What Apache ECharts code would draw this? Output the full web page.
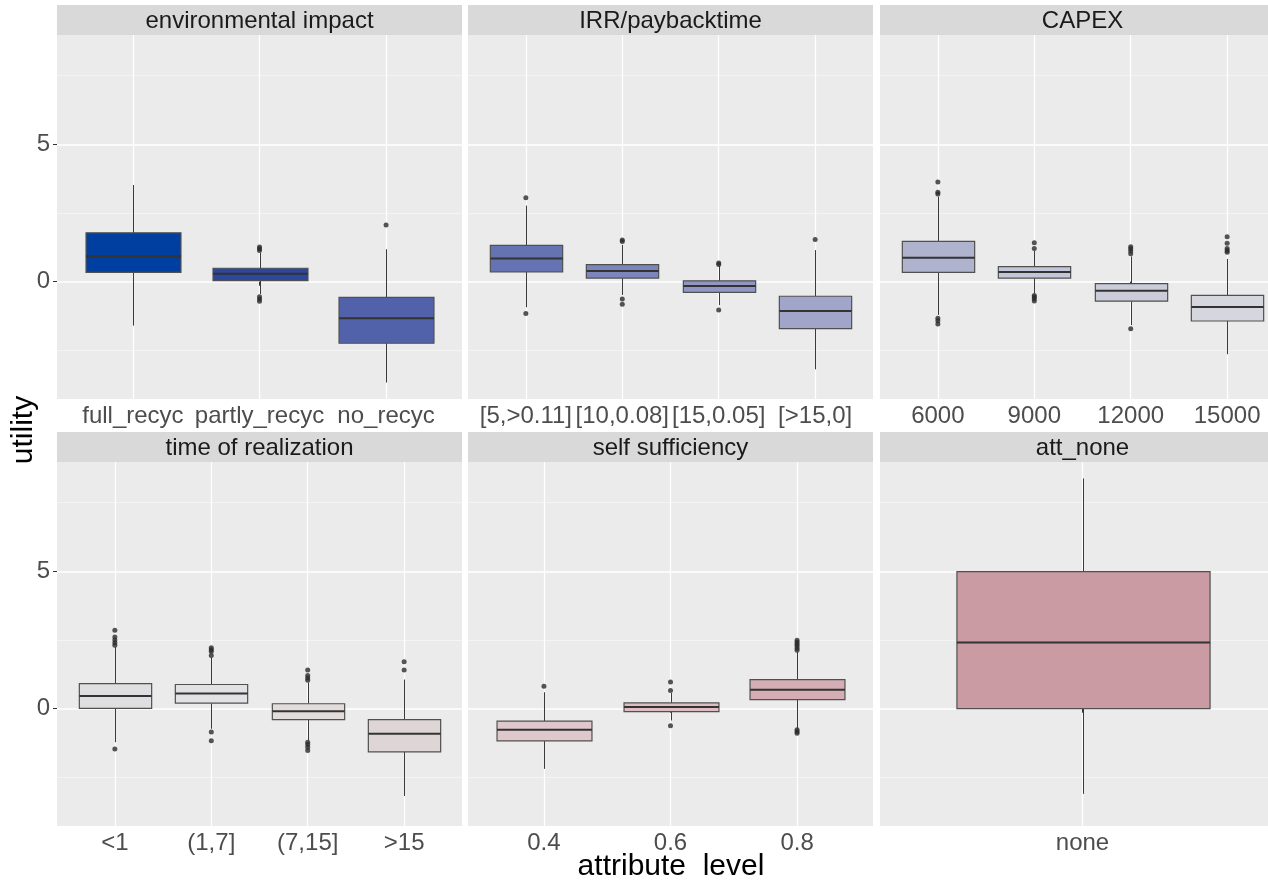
<!DOCTYPE html>
<html>
<head>
<meta charset="utf-8">
<script src="https://cdn.jsdelivr.net/npm/echarts@6/dist/echarts.min.js"></script>
<style>
html,body{margin:0;padding:0;background:#fff;overflow:hidden;width:1268px;height:883px;}
#chart{width:1290px;height:883px;}
</style>
</head>
<body>
<div id="chart"></div>
<script>
// ---------- data ----------
const facetTitles = ['environmental impact', 'IRR/paybacktime', 'CAPEX', 'time of realization', 'self sufficiency', 'att_none'];

// box stats: [lower whisker, Q1, median, Q3, upper whisker]
const envLevels = ['full_recyc', 'partly_recyc', 'no_recyc'];
const envBoxes = [[-1.60, 0.34, 0.93, 1.78, 3.52], [-0.45, 0.04, 0.29, 0.49, 1.05], [-3.67, -2.24, -1.33, -0.57, 1.18]];
const envOutliers = [[], [1.26, 1.20, 1.14, -0.55, -0.63, -0.71], [2.06]];

const irrLevels = ['[5,>0.11]', '[10,0.08]', '[15,0.05]', '[>15,0]'];
const irrBoxes = [[-0.93, 0.36, 0.84, 1.32, 2.77], [-0.48, 0.13, 0.39, 0.62, 1.34], [-0.85, -0.39, -0.16, 0.03, 0.57], [-3.19, -1.71, -1.07, -0.53, 1.15]];
const irrOutliers = [[3.06, -1.16], [1.52, 1.46, -0.63, -0.82], [0.68, 0.63, -1.03], [1.54]];

const capexLevels = ['6000', '9000', '12000', '15000'];
const capexBoxes = [[-1.21, 0.34, 0.87, 1.47, 3.10], [-0.42, 0.13, 0.35, 0.55, 1.12], [-1.58, -0.71, -0.33, -0.07, 0.92], [-2.64, -1.43, -0.92, -0.50, 0.83]];
const capexOutliers = [[3.63, 3.26, 3.19, -1.33, -1.42, -1.54], [1.42, 1.21, -0.50, -0.56, -0.62, -0.70], [1.27, 1.20, 1.12, 1.02, -1.71], [1.64, 1.40, 1.21, 1.14, 1.07]];

const timeLevels = ['<1', '(1,7]', '(7,15]', '>15'];
const timeBoxes = [[-1.22, 0.01, 0.46, 0.91, 2.24], [-0.73, 0.20, 0.55, 0.88, 1.86], [-1.15, -0.40, -0.09, 0.18, 0.95], [-3.18, -1.57, -0.91, -0.40, 1.06]];
const timeOutliers = [[2.86, 2.61, 2.50, 2.40, 2.31, -1.47], [2.22, 2.15, 2.08, 1.94, -0.85, -1.17], [1.41, 1.21, 1.12, 1.04, -1.22, -1.30, -1.40, -1.52], [1.71, 1.41]];

const selfLevels = ['0.4', '0.6', '0.8'];
const selfBoxes = [[-2.19, -1.17, -0.77, -0.45, 0.60], [-0.43, -0.11, 0.06, 0.21, 0.57], [-0.73, 0.33, 0.69, 1.06, 2.06]];
const selfOutliers = [[0.82], [0.97, 0.66, -0.62], [2.49, 2.42, 2.35, 2.28, 2.20, 2.13, -0.77, -0.83, -0.89]];

const noneLevels = ['none'];
const noneBoxes = [[-3.10, 0.00, 2.41, 4.99, 8.38]];
const noneOutliers = [[]];

const yTicks = [0, 5];
const yMinorTicks = [-2.5, 2.5, 7.5];
const yRange = [-4.27, 8.98];

// ---------- styles ----------
const envFills = ['#003ea0', '#2c479f', '#5262aa'];
const irrFills = ['#6573b2', '#7c86bd', '#9097c4', '#a2a5ca'];
const capexFills = ['#afb3ce', '#c3c5d8', '#caccd9', '#d5d6de'];
const timeFills = ['#dfdfe2', '#e2e1e4', '#e2dcdd', '#ddd5d6'];
const selfFills = ['#dec8cb', '#dcbec3', '#d4aeb4'];
const noneFills = ['#cb9ba3'];

const facetLevels = [envLevels, irrLevels, capexLevels, timeLevels, selfLevels, noneLevels];
const facetBoxes = [envBoxes, irrBoxes, capexBoxes, timeBoxes, selfBoxes, noneBoxes];
const facetOutliers = [envOutliers, irrOutliers, capexOutliers, timeOutliers, selfOutliers, noneOutliers];
const facetFills = [envFills, irrFills, capexFills, timeFills, selfFills, noneFills];

const FONT = '"Liberation Sans", Arial, Helvetica, sans-serif';
const colLeft = [57, 468, 880];
const rowTop = [35, 462];
const panelW = 405, panelH = 364, stripH = 30;

const grids = [], xAxes = [], yAxes = [], series = [], graphics = [];

function makeRender(fills) {
  return function (params, api) {
    const x = api.value(0);
    const lo = api.value(1), q1 = api.value(2), med = api.value(3), q3 = api.value(4), hi = api.value(5);
    const w = api.size([0.75, 0])[0];
    const pLo = api.coord([x, lo]), pQ1 = api.coord([x, q1]), pMed = api.coord([x, med]);
    const pQ3 = api.coord([x, q3]), pHi = api.coord([x, hi]);
    const cx = Math.round(pMed[0]) + 0.5;
    return {
      type: 'group',
      children: [
        { type: 'line', shape: { x1: cx, y1: pHi[1], x2: cx, y2: pQ3[1] }, style: { stroke: '#3a3a3a', lineWidth: 1 } },
        { type: 'line', shape: { x1: cx, y1: pQ1[1], x2: cx, y2: pLo[1] }, style: { stroke: '#3a3a3a', lineWidth: 1 } },
        { type: 'rect', shape: { x: cx - w / 2, y: pQ3[1], width: w, height: pQ1[1] - pQ3[1] },
          style: { fill: fills[params.dataIndex], stroke: '#505050', lineWidth: 1.2 } },
        { type: 'line', shape: { x1: cx - w / 2, y1: pMed[1], x2: cx + w / 2, y2: pMed[1] },
          style: { stroke: '#333', lineWidth: 2 } }
      ]
    };
  };
}

facetLevels.forEach(function (levels, i) {
  const row = Math.floor(i / 3), col = i % 3;
  const left = colLeft[col], top = rowTop[row];
  const n = levels.length;
  const pos = levels.map(function (_, j) { return j + 1; });

  grids.push({ left: left, top: top, width: panelW, height: panelH, show: true,
    backgroundColor: '#ebebeb', borderWidth: 0, containLabel: false });

  xAxes.push({
    gridIndex: i, type: 'value', min: 0.4, max: n + 0.6,
    axisLine: { show: false },
    axisTick: { show: true, customValues: pos, length: 4, lineStyle: { color: '#333', width: 1 } },
    axisLabel: { show: true, customValues: pos, margin: 5, fontSize: 24, color: '#4d4d4d', fontFamily: FONT,
      formatter: function (v) { const k = Math.round(v) - 1; return levels[k] !== undefined ? levels[k] : ''; } },
    splitLine: { show: true, lineStyle: { color: '#ffffff', width: 1.2 } }
  });

  yAxes.push({
    gridIndex: i, type: 'value', min: yRange[0], max: yRange[1], position: 'left',
    axisLine: { show: false },
    axisTick: { show: col === 0, customValues: yTicks, length: 4, lineStyle: { color: '#333', width: 1 } },
    axisLabel: { show: col === 0, customValues: yTicks, margin: 7, fontSize: 24, color: '#4d4d4d', fontFamily: FONT },
    splitLine: { show: true, lineStyle: { color: '#ffffff', width: 1.5 } }
  });
  yAxes.push({
    gridIndex: i, type: 'value', min: yRange[0], max: yRange[1], position: 'right',
    axisLine: { show: false },
    axisTick: { show: false, customValues: yMinorTicks },
    axisLabel: { show: false, customValues: yMinorTicks },
    splitLine: { show: true, lineStyle: { color: '#f6f6f6', width: 0.8 } }
  });

  series.push({
    type: 'custom', xAxisIndex: i, yAxisIndex: 2 * i, z: 2, clip: false,
    data: facetBoxes[i].map(function (b, j) { return [j + 1].concat(b); }),
    encode: { x: 0, y: [1, 2, 3, 4, 5] },
    renderItem: makeRender(facetFills[i]),
    silent: true
  });

  const pts = [];
  facetOutliers[i].forEach(function (list, j) { list.forEach(function (v) { pts.push([j + 1, v]); }); });
  series.push({
    type: 'scatter', xAxisIndex: i, yAxisIndex: 2 * i, z: 3, data: pts,
    symbol: 'circle', symbolSize: 5, itemStyle: { color: '#2b2b2b' }, silent: true
  });

  graphics.push({ type: 'rect', shape: { x: left, y: top - stripH, width: panelW, height: stripH },
    style: { fill: '#d9d9d9' }, silent: true });
  graphics.push({ type: 'text', x: left + panelW / 2, y: top - stripH / 2 + 1,
    style: { text: facetTitles[i], font: '24px ' + FONT, fill: '#1a1a1a', align: 'center', verticalAlign: 'middle' },
    silent: true });
});

graphics.push({ type: 'text', x: 24, y: 430, rotation: Math.PI / 2,
  style: { text: 'utility', font: '30px ' + FONT, fill: '#000', align: 'center', verticalAlign: 'middle' }, silent: true });
graphics.push({ type: 'text', x: 671, y: 867,
  style: { text: 'attribute  level', font: '30px ' + FONT, fill: '#000', align: 'center', verticalAlign: 'middle' }, silent: true });

const chart = echarts.init(document.getElementById('chart'), null, { renderer: 'canvas' });
chart.setOption({
  animation: false,
  backgroundColor: '#ffffff',
  grid: grids,
  xAxis: xAxes,
  yAxis: yAxes,
  series: series,
  graphic: graphics
});
</script>
</body>
</html>
